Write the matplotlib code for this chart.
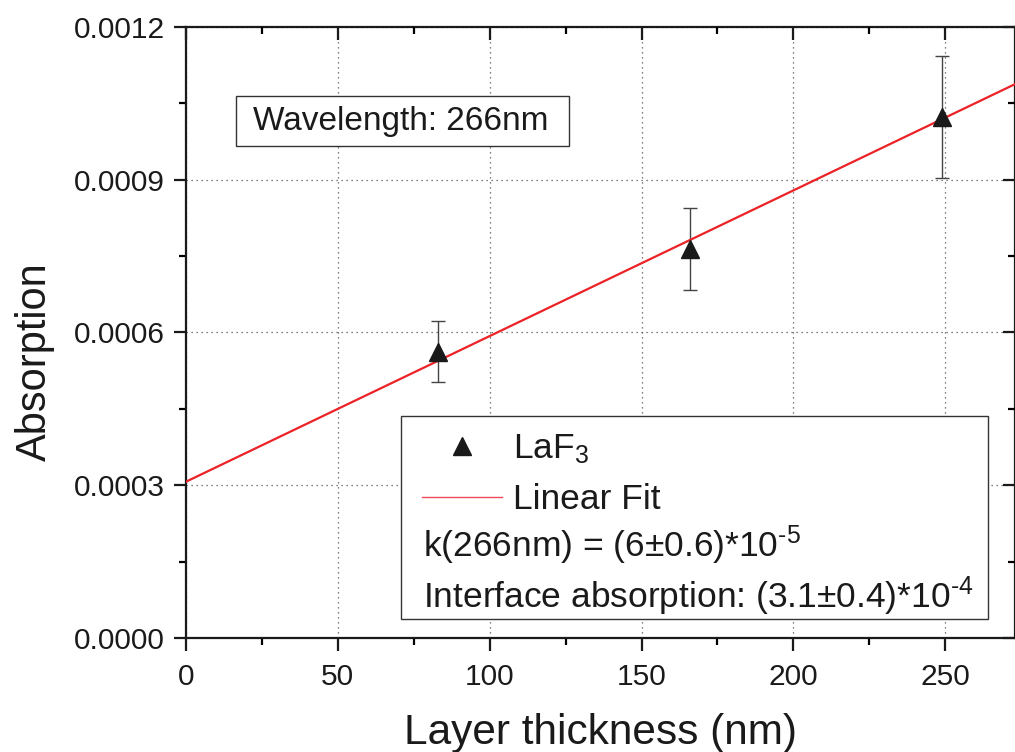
import numpy as np
import matplotlib.pyplot as plt
from matplotlib.ticker import MultipleLocator, FormatStrFormatter
from matplotlib.patches import Rectangle

plt.rcParams['font.family'] = ['Liberation Sans', 'DejaVu Sans']
plt.rcParams['mathtext.fontset'] = 'custom'
plt.rcParams['mathtext.rm'] = 'Liberation Sans'
plt.rcParams['mathtext.it'] = 'Liberation Sans'
plt.rcParams['mathtext.default'] = 'regular'

# measured data (LaF3, 266 nm)
thickness = [83, 166, 249]
absorption = [0.000562, 0.000764, 0.001023]
abs_err = [0.00006, 0.00008, 0.00012]

# linear fit parameters
fit_slope = 2.86e-6
fit_intercept = 0.000307
fit_x = np.array([0, 280])

ink = '#1a1a1a'
fs_leg = 25.5

fig = plt.figure(figsize=(10.15, 7.52), dpi=100)
ax = fig.add_axes([0.1833, 0.1516, 0.8167, 0.8125])

fit_line, = ax.plot(fit_x, fit_intercept + fit_slope * fit_x, color='#ec2227',
                    lw=1.6, label='Linear Fit', zorder=3)
ax.errorbar(thickness, absorption, yerr=abs_err, fmt='none', ecolor='#444444',
            elinewidth=1, capsize=5, capthick=1, zorder=2)
pts, = ax.plot(thickness, absorption, '^', color=ink, ms=13, ls='none',
               label='LaF$_3$', zorder=4)

ax.set_xlim(0, 273)
ax.set_ylim(0, 0.0012)
ax.xaxis.set_major_locator(MultipleLocator(50))
ax.xaxis.set_minor_locator(MultipleLocator(25))
ax.yaxis.set_major_locator(MultipleLocator(0.0003))
ax.yaxis.set_minor_locator(MultipleLocator(0.00015))
ax.yaxis.set_major_formatter(FormatStrFormatter('%.4f'))

ax.grid(True, which='major', color='#555555', ls=(0, (1, 3)), lw=0.9)
for s in ax.spines.values():
    s.set_linewidth(1.6)
    s.set_color(ink)

ax.tick_params(axis='both', which='major', labelsize=21.5, length=9, width=1.6,
               colors=ink, direction='out')
ax.tick_params(axis='x', which='major', pad=9)
ax.tick_params(axis='y', which='major', pad=6)
ax.tick_params(axis='both', which='minor', length=5, width=1.6, direction='out')

ax.set_xlabel('Layer thickness (nm)', fontsize=30.5, labelpad=16, color=ink)
ax.set_ylabel('Absorption', fontsize=30, color=ink)
ax.yaxis.set_label_coords(-0.158, 0.452)

# inward ticks on top and right
ax2 = ax.twiny()
ax2.set_xlim(ax.get_xlim())
ax2.xaxis.set_major_locator(MultipleLocator(50))
ax2.xaxis.set_minor_locator(MultipleLocator(25))
ax2.tick_params(axis='x', which='major', direction='in', length=9, width=1.6,
                labeltop=False, colors=ink)
ax2.tick_params(axis='x', which='minor', direction='in', length=5, width=1.6)
ax3 = ax.twinx()
ax3.set_ylim(ax.get_ylim())
ax3.yaxis.set_major_locator(MultipleLocator(0.0003))
ax3.yaxis.set_minor_locator(MultipleLocator(0.00015))
ax3.tick_params(axis='y', which='major', direction='in', length=9, width=1.6,
                labelright=False, colors=ink)
ax3.tick_params(axis='y', which='minor', direction='in', length=5, width=1.6)
for a in (ax2, ax3):
    for s in a.spines.values():
        s.set_visible(False)

# wavelength label box
ax.add_patch(Rectangle((0.0603, 0.8052), 0.4017, 0.0818, transform=ax.transAxes,
                       fc='white', ec='#333333', lw=1, zorder=5))
ax.text(0.0808, 0.846, 'Wavelength: 266nm', transform=ax.transAxes,
        fontsize=24, va='center', ha='left', color=ink, zorder=6)

# legend box
ax.add_patch(Rectangle((0.259, 0.031), 0.7085, 0.3316, transform=ax.transAxes,
                       fc='white', ec='#333333', lw=1, zorder=5))
leg = ax.legend([pts, fit_line], ['LaF$_3$', 'Linear Fit'], loc='upper left',
                bbox_to_anchor=(0.2847, 0.337), frameon=False, fontsize=fs_leg,
                handlelength=2.26, handletextpad=0.31, labelspacing=0.5,
                borderpad=0, borderaxespad=0)
leg.set_zorder(6)
leg.get_lines()[1].set_linewidth(1)
leg.get_lines()[1].set_color('#ef4a55')
for txt in leg.get_texts():
    txt.set_color(ink)
ax.text(0.2859, 0.1326, 'k(266nm) = (6$\\pm$0.6)*10$^{\\text{-5}}$',
        transform=ax.transAxes, fontsize=fs_leg, va='baseline', ha='left',
        color=ink, zorder=7)
ax.text(0.2859, 0.0491, 'Interface absorption: (3.1$\\pm$0.4)*10$^{\\text{-4}}$',
        transform=ax.transAxes, fontsize=fs_leg, va='baseline', ha='left',
        color=ink, zorder=7)

fig.savefig('out.png', dpi=100)
